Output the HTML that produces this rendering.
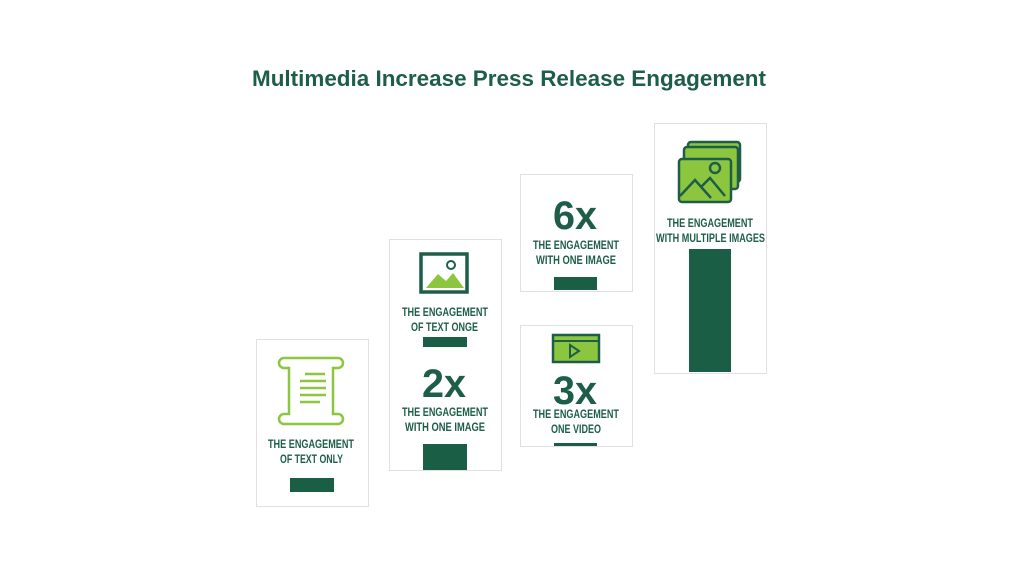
<!DOCTYPE html>
<html><head><meta charset="utf-8"><style>
html,body{margin:0;padding:0;background:#fff;width:1024px;height:576px;overflow:hidden}
svg{display:block}
text{font-family:"Liberation Sans",sans-serif;fill:#1e5e48;font-weight:bold}
.l{font-size:12px;font-weight:bold}
.n{font-size:40px}
rect.c{fill:#fff;stroke:#e0e0e0;stroke-width:1}
</style></head><body>
<svg width="1024" height="576" viewBox="0 0 1024 576">
<text x="252" y="86" font-size="22" textLength="514" lengthAdjust="spacingAndGlyphs">Multimedia Increase Press Release Engagement</text>

<!-- card1 -->
<rect class="c" x="256.5" y="339.5" width="112" height="167"/>
<g fill="none" stroke="#8cc63f" stroke-width="2.5">
<path d="M284 358 h54 a5 5 0 0 1 0 10 h-5 v46 h5 a5 5 0 0 1 0 10 h-54 a5 5 0 0 1 0-10 h5 v-46 h-5 a5 5 0 0 1 0-10z"/>
<path d="M305 374 h20 M300 381 h26 M300 388 h26 M300 395 h26 M300 402 h20"/>
</g>
<text class="l" x="268" y="448" textLength="86" lengthAdjust="spacingAndGlyphs">THE ENGAGEMENT</text>
<text class="l" x="280" y="463" textLength="63" lengthAdjust="spacingAndGlyphs">OF TEXT ONLY</text>
<rect x="290" y="478" width="44" height="14" fill="#1b5e46"/>

<!-- card2 -->
<rect class="c" x="389.5" y="239.5" width="112" height="231"/>
<rect x="421" y="254" width="46" height="38" fill="none" stroke="#1e5e48" stroke-width="3.5"/>
<path d="M426 288 l12-14 l8 7 l7-8 l11 15z" fill="#8cc63f"/>
<circle cx="451" cy="265" r="4" fill="none" stroke="#1e5e48" stroke-width="2"/>
<text class="l" x="402" y="316" textLength="86" lengthAdjust="spacingAndGlyphs">THE ENGAGEMENT</text>
<text class="l" x="411" y="331" textLength="67" lengthAdjust="spacingAndGlyphs">OF TEXT ONGE</text>
<rect x="423" y="337" width="44" height="10" fill="#1b5e46"/>
<text class="n" x="422" y="397" textLength="44" lengthAdjust="spacingAndGlyphs">2x</text>
<text class="l" x="402" y="416" textLength="86" lengthAdjust="spacingAndGlyphs">THE ENGAGEMENT</text>
<text class="l" x="405" y="431" textLength="80" lengthAdjust="spacingAndGlyphs">WITH ONE IMAGE</text>
<rect x="423" y="444" width="44" height="26" fill="#1b5e46"/>

<!-- card3 -->
<rect class="c" x="520.5" y="174.5" width="112" height="117"/>
<text class="n" x="553" y="229" textLength="44" lengthAdjust="spacingAndGlyphs">6x</text>
<text class="l" x="533" y="249" textLength="86" lengthAdjust="spacingAndGlyphs">THE ENGAGEMENT</text>
<text class="l" x="536" y="264" textLength="80" lengthAdjust="spacingAndGlyphs">WITH ONE IMAGE</text>
<rect x="554" y="277" width="43" height="13" fill="#1b5e46"/>

<!-- card4 -->
<rect class="c" x="520.5" y="325.5" width="112" height="121"/>
<rect x="553" y="335" width="46" height="27" fill="#8cc63f" stroke="#1e5e48" stroke-width="2.5"/>
<line x1="553" y1="341" x2="599" y2="341" stroke="#1e5e48" stroke-width="2"/>
<path d="M570 345 l9 6 l-9 6z" fill="none" stroke="#1e5e48" stroke-width="2"/>
<text class="n" x="553" y="404" textLength="44" lengthAdjust="spacingAndGlyphs">3x</text>
<text class="l" x="533" y="418" textLength="86" lengthAdjust="spacingAndGlyphs">THE ENGAGEMENT</text>
<text class="l" x="551" y="433" textLength="50" lengthAdjust="spacingAndGlyphs">ONE VIDEO</text>
<rect x="554" y="443" width="43" height="3" fill="#1b5e46"/>

<!-- card5 -->
<rect class="c" x="654.5" y="123.5" width="112" height="250"/>
<g stroke="#1e5e48" stroke-width="2.5" fill="#8cc63f">
<rect x="688" y="142" width="52" height="40" rx="3"/>
<rect x="684" y="147" width="54" height="42" rx="3"/>
<rect x="679" y="159" width="52" height="43" rx="3"/>
</g>
<g fill="none" stroke="#1e5e48" stroke-width="2.5">
<path d="M680 196 l15-16 l16 18 M702 186 l8-8 l15 18"/>
<circle cx="715" cy="168" r="5"/>
</g>
<text class="l" x="667" y="227" textLength="86" lengthAdjust="spacingAndGlyphs">THE ENGAGEMENT</text>
<text class="l" x="656" y="242" textLength="109" lengthAdjust="spacingAndGlyphs">WITH MULTIPLE IMAGES</text>
<rect x="689" y="249" width="42" height="123" fill="#1b5e46"/>
</svg>
</body></html>
